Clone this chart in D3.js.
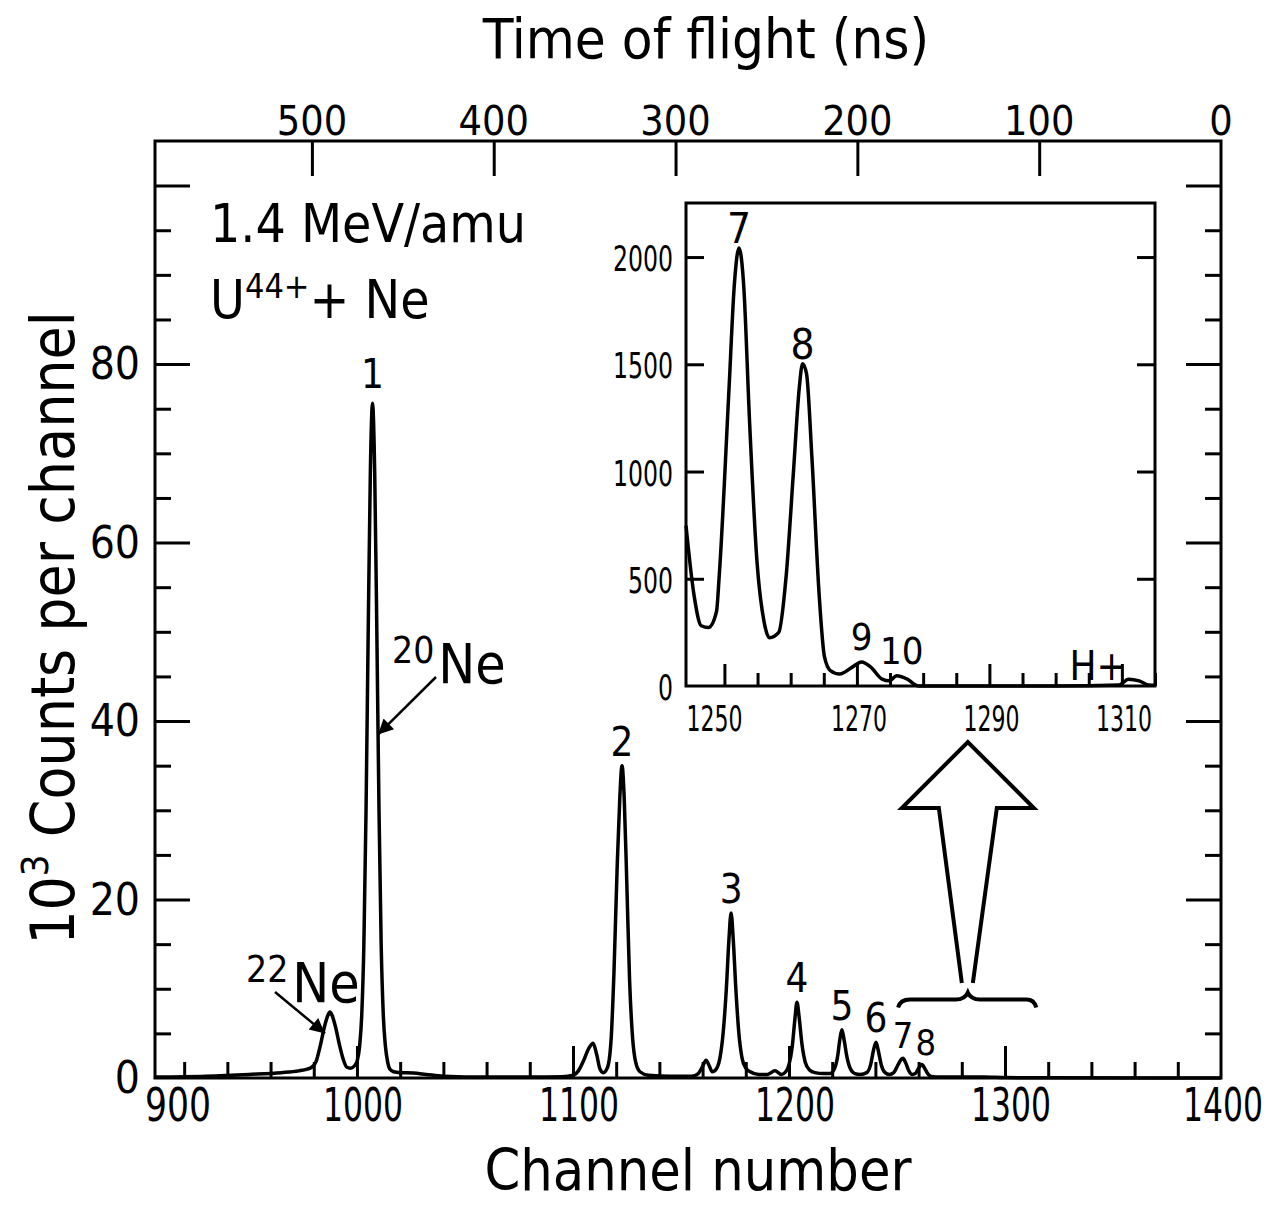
<!DOCTYPE html>
<html>
<head>
<meta charset="utf-8">
<script src="https://cdn.jsdelivr.net/npm/d3@7"></script>
<style>
  body { margin: 0; background: #fff; }
  text { font-family: 'DejaVu Sans', sans-serif; font-stretch: condensed; fill: #000; }
</style>
</head>
<body>
<svg id="chart" width="1275" height="1205"></svg>
<script>
// main spectrum, channel number vs 10^3 counts per channel
const mainChannels = [906.5, 930, 950, 965, 973, 977, 979, 981, 983, 985, 986.5, 987.5, 988.5, 990, 992, 993.5, 995.3, 997, 999,
  1000.2, 1001.2, 1002.2, 1003.2, 1004.2, 1005.2, 1006.2, 1007.2, 1008.2, 1009.2, 1010.2, 1011.2, 1012.2, 1013.2, 1014.2, 1015.2,
  1017, 1020, 1026, 1032, 1040, 1060, 1080, 1095, 1100, 1102.5, 1105, 1107.5, 1109.3, 1111, 1112.5, 1114,
  1116, 1117.7, 1119, 1120.5, 1121.7, 1122.7, 1123.7, 1124.9, 1126.2, 1127.6, 1129, 1131, 1135, 1145, 1155,
  1158, 1160, 1161.6, 1163, 1164.5, 1166, 1168, 1169.5, 1171, 1172.2, 1173.2, 1174.2, 1175.4, 1176.8, 1178.3, 1180, 1182,
  1186, 1190, 1193.5, 1196.5, 1198.5, 1200, 1201.5, 1202.7, 1203.7, 1204.7, 1206, 1207.5, 1209.5, 1212, 1216, 1219,
  1221, 1222.5, 1223.6, 1224.5, 1225.5, 1226.8, 1228.5, 1230.5, 1233, 1236, 1237.8, 1239.2, 1240.3, 1241.4, 1242.8, 1244.5,
  1246.5, 1248.5, 1250.3, 1251.7, 1252.8, 1254, 1255.5, 1257, 1258.5, 1260, 1261.5, 1263, 1264.5, 1266.5, 1270, 1280, 1290, 1300, 1320, 1400];
const mainCounts = [0.1, 0.2, 0.4, 0.6, 0.8, 1.0, 1.2, 1.8, 3.6, 5.8, 7.0, 7.4, 7.0, 5.8, 3.6, 2.2, 1.2, 1.1, 1.4,
  2.0, 3.5, 7, 15, 30, 50, 68, 75.6, 68, 50, 30, 15, 7, 3.5, 1.8, 1.0,
  0.7, 0.6, 0.55, 0.4, 0.2, 0.1, 0.1, 0.15, 0.3, 0.8, 2.0, 3.4, 3.9, 2.6, 1.0, 0.6,
  1.2, 4.5, 12, 24, 31.5, 35, 31.5, 22, 11, 4.5, 1.8, 0.7, 0.3, 0.2, 0.2,
  0.5, 1.3, 2.0, 1.4, 0.7, 0.9, 2.2, 5, 10, 15.5, 18.5, 15.5, 10, 5, 2.2, 1.1, 0.7,
  0.4, 0.4, 0.8, 0.4, 0.7, 1.5, 3.5, 6.5, 8.5, 6.8, 3.8, 1.8, 0.9, 0.6, 0.5, 0.5,
  1.0, 2.4, 4.4, 5.4, 4.3, 2.4, 1.0, 0.5, 0.4, 0.6, 1.5, 3.2, 4.0, 3.0, 1.4, 0.6,
  0.4, 0.6, 1.4, 2.0, 2.2, 1.7, 0.8, 0.4, 0.5, 1.1, 1.5, 1.0, 0.4, 0.15, 0.1, 0.1, 0.1, 0.05, 0.02, 0];

// inset spectrum, counts per channel
const insetChannels = [1244.2, 1245.4, 1246.5, 1247.6, 1248.8, 1249.2, 1250.7, 1251.5, 1252.2, 1252.9, 1253.8, 1254.9, 1256.0, 1256.8,
  1258.2, 1259.3, 1260.4, 1261.3, 1261.8, 1262.4, 1263.2, 1264.3, 1265.1, 1266, 1267.4, 1269.3, 1270.7, 1272.1, 1273.8, 1274.9,
  1276, 1277.6, 1279.3, 1290, 1300, 1309.6, 1311, 1312.6, 1314, 1315];
const insetCounts = [748, 426, 281, 273, 346, 506, 1390, 1873, 2042, 1873, 1230, 587, 297, 225,
  250, 506, 989, 1390, 1503, 1455, 1069, 426, 137, 72, 56, 88, 112, 88, 32, 24,
  48, 32, 0, 0, 0, 5, 32, 24, 5, 3];

// peak labels
const mainPeakNames = ['1', '2', '3', '4', '5', '6', '7', '8'];
const mainPeakChannels = [1007.2, 1122.7, 1173.2, 1203.7, 1224.5, 1240.3, 1252.8, 1261.5];
const mainPeakCounts = [75.6, 35, 18.5, 8.5, 5.4, 4.0, 2.2, 1.5];
const insetPeakNames = ['7', '8', '9', '10'];
const insetPeakChannels = [1252.2, 1261.8, 1270.7, 1276];
const insetPeakCounts = [2042, 1503, 112, 48];

// axes
const channelLabels = [900, 1000, 1100, 1200, 1300, 1400];
const channelMajor = [1000, 1100, 1200, 1300];
const channelMinor = d3.range(920, 1400, 20).filter(d => d % 100 !== 0);
const tofLabels = [500, 400, 300, 200, 100, 0];
const countLabels = [0, 20, 40, 60, 80];
const countMajor = [20, 40, 60, 80, 100];
const countMinor = d3.range(5, 105, 5).filter(d => d % 20 !== 0);
const insetChannelLabels = [1250, 1270, 1290, 1310];
const insetChannelMinor = d3.range(1250, 1316, 5).filter(d => (d - 1250) % 20 !== 0);
const insetCountLabels = [0, 500, 1000, 1500, 2000];

const svg = d3.select('#chart');
const frame = { left: 155, right: 1221, top: 141, bottom: 1078 };

const x = d3.scaleLinear().domain([906.5, 1400]).range([frame.left, frame.right]);
const y = d3.scaleLinear().domain([0, 105]).range([frame.bottom, frame.top]);
// time of flight runs the other way on top
const tof = d3.scaleLinear().domain([586.3, 0]).range([frame.left, frame.right]);

const inset = { left: 686, right: 1155, top: 203, bottom: 686 };
const xi = d3.scaleLinear().domain([1244.2, 1315]).range([inset.left, inset.right]);
const yi = d3.scaleLinear().domain([0, 2252]).range([inset.bottom, inset.top]);

// frame
svg.append('rect')
  .attr('x', frame.left).attr('y', frame.top)
  .attr('width', frame.right - frame.left).attr('height', frame.bottom - frame.top)
  .attr('fill', 'none').attr('stroke', '#000').attr('stroke-width', 3);

function tickGroup(axis) {
  const g = svg.append('g').call(axis);
  g.select('.domain').remove();
  g.selectAll('line').attr('stroke', '#000').attr('stroke-width', 3);
  return g;
}

// bottom ticks (inward)
tickGroup(d3.axisBottom(x).tickValues(channelMajor).tickSize(-32).tickFormat(''))
  .attr('transform', `translate(0,${frame.bottom})`);
tickGroup(d3.axisBottom(x).tickValues(channelMinor).tickSize(-16).tickFormat(''))
  .attr('transform', `translate(0,${frame.bottom})`);
// left / right ticks
tickGroup(d3.axisLeft(y).tickValues(countMajor).tickSize(-35).tickFormat(''))
  .attr('transform', `translate(${frame.left},0)`);
tickGroup(d3.axisLeft(y).tickValues(countMinor).tickSize(-16).tickFormat(''))
  .attr('transform', `translate(${frame.left},0)`);
tickGroup(d3.axisRight(y).tickValues(countMajor).tickSize(-35).tickFormat(''))
  .attr('transform', `translate(${frame.right},0)`);
tickGroup(d3.axisRight(y).tickValues(countMinor).tickSize(-16).tickFormat(''))
  .attr('transform', `translate(${frame.right},0)`);
// top ticks (time of flight)
tickGroup(d3.axisTop(tof).tickValues(tofLabels.filter(d => d > 0)).tickSize(-35).tickFormat(''))
  .attr('transform', `translate(0,${frame.top})`);

// tick labels
svg.append('g').selectAll('text').data(channelLabels).join('text')
  .attr('x', d => d === 900 ? x(d) + 37 : (d === 1400 ? x(d) + 2 : x(d) + 6))
  .attr('y', 1121)
  .attr('text-anchor', 'middle')
  .attr('font-size', 46)
  .attr('textLength', d => String(d).length === 3 ? 66 : 80)
  .attr('lengthAdjust', 'spacingAndGlyphs')
  .text(d => d);
svg.append('g').selectAll('text').data(tofLabels).join('text')
  .attr('x', d => tof(d))
  .attr('y', 135)
  .attr('text-anchor', 'middle')
  .attr('font-size', 41)
  .text(d => d);
svg.append('g').selectAll('text').data(countLabels).join('text')
  .attr('x', 140)
  .attr('y', d => y(d) + 15)
  .attr('text-anchor', 'end')
  .attr('font-size', 44)
  .text(d => d);

// spectrum
const mainData = mainChannels.map((c, i) => [c, mainCounts[i]]);
svg.append('path')
  .datum(mainData)
  .attr('fill', 'none')
  .attr('stroke', '#000')
  .attr('stroke-width', 3.5)
  .attr('stroke-linejoin', 'round')
  .attr('d', d3.line().x(d => x(d[0])).y(d => y(d[1])).curve(d3.curveMonotoneX));

svg.append('g').selectAll('text').data(mainPeakNames).join('text')
  .attr('x', (d, i) => x(mainPeakChannels[i]) + (i === 7 ? 4 : 0))
  .attr('y', (d, i) => y(mainPeakCounts[i]) - (i === 0 ? 15 : 10))
  .attr('text-anchor', 'middle')
  .attr('font-size', (d, i) => i >= 6 ? 36 : 40)
  .text(d => d);

// axis titles
svg.append('text')
  .attr('x', 706).attr('y', 58)
  .attr('text-anchor', 'middle')
  .attr('font-size', 56)
  .text('Time of flight (ns)');
svg.append('text')
  .attr('x', 698).attr('y', 1190)
  .attr('text-anchor', 'middle')
  .attr('font-size', 57)
  .text('Channel number');
const yTitle = svg.append('text')
  .attr('transform', 'translate(74,628) rotate(-90)')
  .attr('text-anchor', 'middle')
  .attr('font-size', 60);
yTitle.append('tspan').text('10');
yTitle.append('tspan').attr('font-size', 38).attr('dy', -26).text('3');
yTitle.append('tspan').attr('dy', 26).text(' Counts  per  channel');

// reaction text
svg.append('text')
  .attr('x', 210).attr('y', 242)
  .attr('font-size', 53)
  .text('1.4 MeV/amu');
const reaction = svg.append('text')
  .attr('x', 210).attr('y', 318)
  .attr('font-size', 53);
reaction.append('tspan').text('U');
reaction.append('tspan').attr('font-size', 34).attr('dy', -20).text('44+');
reaction.append('tspan').attr('dy', 20).text('+ Ne');

// isotope labels with arrows
svg.append('defs').append('marker')
  .attr('id', 'head')
  .attr('viewBox', '0 0 10 10')
  .attr('refX', 10).attr('refY', 5)
  .attr('markerWidth', 7).attr('markerHeight', 6)
  .attr('markerUnits', 'strokeWidth')
  .attr('orient', 'auto')
  .append('path').attr('d', 'M0,0 L10,5 L0,10 Z').attr('fill', '#000');

function isotope(label, mass, tx, ty, fromX, fromY, toChannel, toCounts) {
  const t = svg.append('text').attr('x', tx).attr('y', ty).attr('font-size', 55);
  t.append('tspan').attr('font-size', 37).attr('dy', -20).text(mass);
  t.append('tspan').attr('dy', 20).attr('dx', 4).text(label);
  svg.append('line')
    .attr('x1', fromX).attr('y1', fromY)
    .attr('x2', x(toChannel)).attr('y2', y(toCounts))
    .attr('stroke', '#000').attr('stroke-width', 2.5)
    .attr('marker-end', 'url(#head)');
}
isotope('Ne', '20', 392, 683, 436, 677, 1009.8, 38.5);
isotope('Ne', '22', 246, 1002, 275, 992, 985.2, 5.0);

// big hollow arrow and brace pointing at the inset
const bx = x(1282.8);
const braceY = y(8.8);
svg.append('path')
  .attr('d', `M${bx - 6},983 L${bx - 29},808 L${bx - 66},808 L${bx},742 L${bx + 66},808 L${bx + 29},808 L${bx + 5},983`)
  .attr('fill', 'none').attr('stroke', '#000').attr('stroke-width', 4).attr('stroke-linejoin', 'miter');
svg.append('path')
  .attr('d', `M${x(1250.5)},${braceY + 8} Q${x(1251.5)},${braceY} ${x(1256)},${braceY} L${bx - 12},${braceY} Q${bx - 3},${braceY} ${bx},${braceY - 7}` +
    ` Q${bx + 3},${braceY} ${bx + 12},${braceY} L${x(1310)},${braceY} Q${x(1313.5)},${braceY} ${x(1314.5)},${braceY + 8}`)
  .attr('fill', 'none').attr('stroke', '#000').attr('stroke-width', 4);

// inset
svg.append('rect')
  .attr('x', inset.left).attr('y', inset.top)
  .attr('width', inset.right - inset.left).attr('height', inset.bottom - inset.top)
  .attr('fill', '#fff').attr('stroke', '#000').attr('stroke-width', 3);

tickGroup(d3.axisBottom(xi).tickValues(insetChannelLabels).tickSize(-22).tickFormat(''))
  .attr('transform', `translate(0,${inset.bottom})`);
tickGroup(d3.axisBottom(xi).tickValues(insetChannelMinor).tickSize(-13).tickFormat(''))
  .attr('transform', `translate(0,${inset.bottom})`);
tickGroup(d3.axisLeft(yi).tickValues(insetCountLabels.slice(1)).tickSize(-18).tickFormat(''))
  .attr('transform', `translate(${inset.left},0)`);
tickGroup(d3.axisRight(yi).tickValues(insetCountLabels.slice(1)).tickSize(-18).tickFormat(''))
  .attr('transform', `translate(${inset.right},0)`);

svg.append('g').selectAll('text').data(insetChannelLabels).join('text')
  .attr('x', d => d === 1250 ? xi(d) - 10 : xi(d) + 2)
  .attr('y', 731)
  .attr('text-anchor', 'middle')
  .attr('font-size', 36)
  .attr('textLength', 56)
  .attr('lengthAdjust', 'spacingAndGlyphs')
  .text(d => d);
svg.append('g').selectAll('text').data(insetCountLabels).join('text')
  .attr('x', 673)
  .attr('y', d => yi(d) + 14)
  .attr('text-anchor', 'end')
  .attr('font-size', 36)
  .attr('textLength', d => String(d).length * 15)
  .attr('lengthAdjust', 'spacingAndGlyphs')
  .text(d => d);

const insetData = insetChannels.map((c, i) => [c, insetCounts[i]]);
svg.append('path')
  .datum(insetData)
  .attr('fill', 'none')
  .attr('stroke', '#000')
  .attr('stroke-width', 3.5)
  .attr('stroke-linejoin', 'round')
  .attr('d', d3.line().x(d => xi(d[0])).y(d => yi(d[1])).curve(d3.curveMonotoneX));

svg.append('g').selectAll('text').data(insetPeakNames).join('text')
  .attr('x', (d, i) => xi(insetPeakChannels[i]) + (i === 3 ? 5 : 0))
  .attr('y', (d, i) => yi(insetPeakCounts[i]) - (i < 2 ? 5 : 12))
  .attr('text-anchor', 'middle')
  .attr('font-size', (d, i) => i < 2 ? 42 : 38)
  .text(d => d);
svg.append('text')
  .attr('x', 1098).attr('y', 680)
  .attr('text-anchor', 'middle')
  .attr('font-size', 40)
  .text('H+');
</script>
</body>
</html>
